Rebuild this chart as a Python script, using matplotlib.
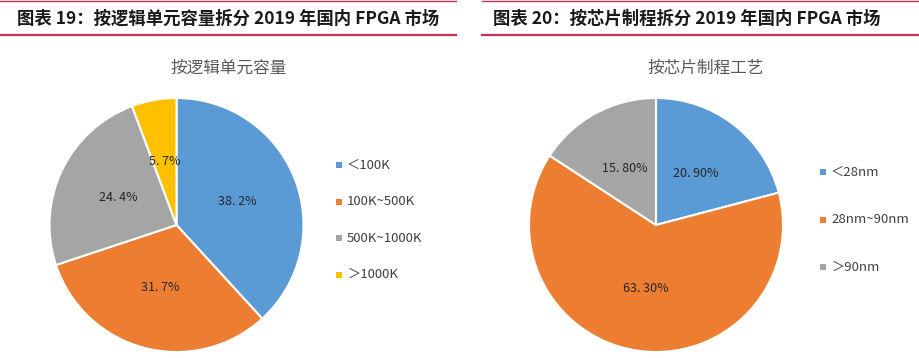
import matplotlib.pyplot as plt
import numpy as np

plt.rcParams['font.family'] = ['Noto Sans CJK SC', 'DejaVu Sans']

# data
left_title = '图表 19：按逻辑单元容量拆分 2019 年国内 FPGA 市场'
right_title = '图表 20：按芯片制程拆分 2019 年国内 FPGA 市场'
left_pie_title = '按逻辑单元容量'
right_pie_title = '按芯片制程工艺'

left_cats = ['＜100K', '100K~500K', '500K~1000K', '＞1000K']
left_vals = [38.2, 31.7, 24.4, 5.7]
left_lbls = ['38. 2%', '31. 7%', '24. 4%', '5. 7%']

right_cats = ['＜28nm', '28nm~90nm', '＞90nm']
right_vals = [20.9, 63.3, 15.8]
right_lbls = ['20. 90%', '63. 30%', '15. 80%']

colors = ['#5B9BD5', '#ED7D31', '#A5A5A5', '#FFC000']
line_col = '#C9304F'

W, H = 920, 358
fig = plt.figure(figsize=(W / 100, H / 100), dpi=100)
ax = fig.add_axes([0, 0, 1, 1])


def py(y):
    # pixel row from top -> data y
    return H - y


def draw_pie(cx, cy, r, vals, lbls, cats, leg_x, leg_y, spacing):
    wedges, _ = ax.pie(vals, colors=colors[:len(vals)], startangle=90,
                       counterclock=False, center=(cx, py(cy)), radius=r,
                       wedgeprops=dict(edgecolor='white', linewidth=1.5))
    for w, lab in zip(wedges, lbls):
        mid = np.deg2rad((w.theta1 + w.theta2) / 2)
        ax.text(cx + 0.51 * r * np.cos(mid), py(cy) + 0.51 * r * np.sin(mid),
                lab, ha='center', va='center', fontsize=9, color='#262626')
    for i, c in enumerate(cats):
        y = py(leg_y + i * spacing)
        ax.scatter([leg_x], [y], marker='s', s=14, color=colors[i], lw=0)
        ax.text(leg_x + 8, y, c, ha='left', va='center', fontsize=9.5,
                color='#404040')


draw_pie(176.5, 225, 127, left_vals, left_lbls, left_cats, 339, 165, 36.5)
draw_pie(656, 225, 127, right_vals, right_lbls, right_cats, 823, 172, 47.5)

ax.text(229, py(68), left_pie_title, ha='center', va='center',
        fontsize=12, color='#595959')
ax.text(706, py(68), right_pie_title, ha='center', va='center',
        fontsize=12, color='#595959')

# header titles and rules
ax.text(17, py(19), left_title, ha='left', va='center', fontsize=12.5,
        fontweight='bold', color='#1a1a1a')
ax.text(493, py(19), right_title, ha='left', va='center', fontsize=12.5,
        fontweight='bold', color='#1a1a1a')
ax.plot([0, 456], [py(1), py(1)], color=line_col, lw=1)
ax.plot([0, 456], [py(35), py(35)], color=line_col, lw=1.6)
ax.plot([482, 920], [py(1), py(1)], color=line_col, lw=1)
ax.plot([482, 920], [py(35), py(35)], color=line_col, lw=1.6)

ax.set_xlim(0, W)
ax.set_ylim(0, H)
ax.set_aspect('auto')
ax.axis('off')

fig.savefig('out.png', dpi=100, facecolor='white')
